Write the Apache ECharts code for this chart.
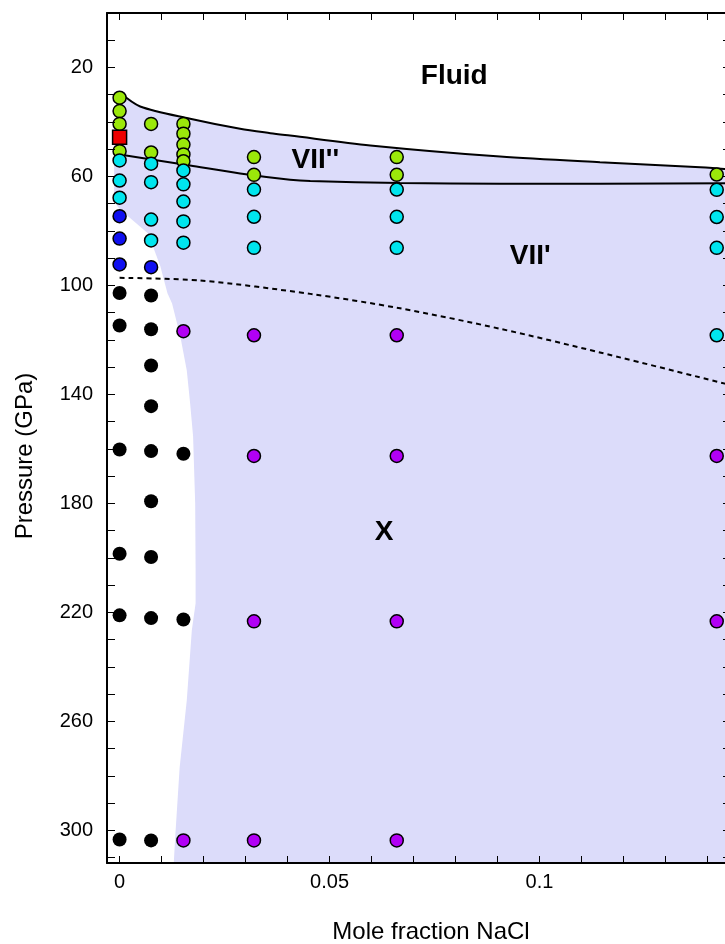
<!DOCTYPE html>
<html>
<head>
<meta charset="utf-8">
<script src="https://cdn.jsdelivr.net/npm/echarts@6/dist/echarts.min.js"></script>
<style>
html,body{margin:0;padding:0;background:#fff;overflow:hidden;}
#chart{width:740px;height:944px;}
</style>
</head>
<body>
<div id="chart"></div>
<script>
// ---- axis ranges & ticks ----
const xMin = -0.003, xMax = 0.1456;
const yMin = 0, yMax = 312;
const xTickValues = [0,0.01,0.02,0.03,0.04,0.05,0.06,0.07,0.08,0.09,0.1,0.11,0.12,0.13,0.14];
const xLabelValues = [0,0.05,0.1];
const yTickValues = [10,20,30,40,50,60,70,80,90,100,110,120,130,140,150,160,170,180,190,200,210,220,230,240,250,260,270,280,290,300,310];
const yLabelValues = [20,60,100,140,180,220,260,300];

// ---- data points (mole fraction NaCl, pressure GPa) ----
const greenX = [0,0,0,0, 0.0075,0.0075, 0.0152,0.0152,0.0152,0.0152,0.0152, 0.032,0.032, 0.066,0.066, 0.1422];
const greenP = [31.1,36.0,40.7,50.7, 40.7,51.2, 40.7,44.3,48.3,51.9,54.4, 52.9,59.4, 52.9,59.4, 59.3];

const redX = [0];
const redP = [45.6];

const cyanX = [0,0,0, 0.0075,0.0075,0.0075,0.0075, 0.0152,0.0152,0.0152,0.0152,0.0152, 0.032,0.032,0.032, 0.066,0.066,0.066, 0.1422,0.1422,0.1422,0.1422];
const cyanP = [54.1,61.5,67.8, 55.3,62.1,75.8,83.5, 57.8,62.9,69.2,76.5,84.3, 64.8,74.8,86.2, 64.8,74.8,86.2, 64.9,74.9,86.2,118.3];

const blueX = [0,0,0, 0.0075];
const blueP = [74.6,82.8,92.3, 93.3];

const purpleX = [0.0152,0.0152, 0.032,0.032,0.032,0.032, 0.066,0.066,0.066,0.066, 0.1422,0.1422];
const purpleP = [116.8,303.7, 118.3,162.6,223.3,303.7, 118.3,162.6,223.3,303.7, 162.6,223.3];

const blackX = [0,0,0,0,0,0, 0.0075,0.0075,0.0075,0.0075,0.0075,0.0075,0.0075,0.0075,0.0075, 0.0152,0.0152];
const blackP = [102.8,114.7,160.2,198.5,221.1,303.4, 103.7,116.1,129.4,144.3,160.8,179.2,199.7,222.1,303.7, 161.8,222.6];

// ---- phase boundaries ----
const upperX = [0, 0.0049, 0.0168, 0.0287, 0.0359, 0.0406, 0.0597, 0.0906, 0.1144, 0.1383, 0.1456];
const upperP = [29.1, 34.3, 38.8, 42.5, 44.1, 45.0, 48.6, 52.7, 54.8, 56.6, 57.4];

const lowerX = [0, 0.0168, 0.0287, 0.0406, 0.0454, 0.0668, 0.0906, 0.1456];
const lowerP = [51.9, 56.0, 58.9, 61.2, 61.7, 62.4, 62.7, 62.5];

const dashX = [0, 0.0192, 0.0454, 0.0668, 0.0906, 0.1144, 0.1456];
const dashP = [97.2, 98.2, 103.1, 108.4, 115.9, 124.6, 136.6];

// left edge of the shaded region, from bottom up to the top
const edgeX = [0.0129, 0.0133, 0.0143, 0.016, 0.0172, 0.0181, 0.0181, 0.018, 0.0175, 0.0168, 0.016, 0.0145, 0.0125, 0.0114, 0.0097, 0.0068, 0.0018, -0.0003, -0.0013, -0.0013, -0.0008];
const edgeP = [312, 301.1, 276.9, 252.3, 226.6, 216.7, 204.6, 180, 155.4, 143.3, 131.2, 119, 106.6, 102.9, 93, 80.9, 74.3, 71.4, 68.8, 50.5, 33];

// ---- region labels ----
const labelNames = ['Fluid', "VII''", "VII'", 'X'];
const labelX = [0.0797, 0.0466, 0.0978, 0.063];
const labelP = [23.3, 54.1, 89.4, 190.6];

const zip = (xs, ys) => xs.map((x, i) => [x, ys[i]]);

const shadeX = upperX.concat([xMax, xMax]).concat(edgeX);
const shadeP = upperP.concat([upperP[upperP.length-1], yMax]).concat(edgeP);

const FONT = '"Liberation Sans", Arial, Helvetica, sans-serif';

const chart = echarts.init(document.getElementById('chart'), null, {renderer: 'canvas'});

function dotSeries(xs, ys, color, size, border, symbol) {
  return {
    type: 'scatter',
    data: zip(xs, ys),
    symbol: symbol || 'circle',
    symbolSize: size,
    itemStyle: {color: color, borderColor: '#000', borderWidth: border, opacity: 1},
    z: 5,
    silent: true
  };
}

const axisCommon = {
  type: 'value',
  splitLine: {show: false},
  axisLine: {show: true, onZero: false, lineStyle: {color: '#000', width: 2}},
  z: 10
};

const option = {
  animation: false,
  backgroundColor: '#fff',
  grid: {left: 107, top: 13, right: 9, bottom: 81, containLabel: false},
  xAxis: [
    Object.assign({}, axisCommon, {
      position: 'bottom', min: xMin, max: xMax,
      axisTick: {show: true, inside: true, length: 7, lineStyle: {color: '#000', width: 1}, customValues: xTickValues},
      axisLabel: {show: true, customValues: xLabelValues, fontSize: 20, color: '#000', fontFamily: FONT, margin: 9}
    }),
    Object.assign({}, axisCommon, {
      position: 'top', min: xMin, max: xMax,
      axisTick: {show: true, inside: true, length: 7, lineStyle: {color: '#000', width: 1}, customValues: xTickValues},
      axisLabel: {show: false}
    })
  ],
  yAxis: [
    Object.assign({}, axisCommon, {
      position: 'left', inverse: true, min: yMin, max: yMax,
      axisTick: {show: true, inside: true, length: 8, lineStyle: {color: '#000', width: 1}, customValues: yTickValues},
      axisLabel: {show: true, customValues: yLabelValues, fontSize: 20, color: '#000', fontFamily: FONT, margin: 14}
    }),
    Object.assign({}, axisCommon, {
      position: 'right', inverse: true, min: yMin, max: yMax,
      axisTick: {show: true, inside: true, length: 8, lineStyle: {color: '#000', width: 1}, customValues: yTickValues},
      axisLabel: {show: false}
    })
  ],
  graphic: [
    {type: 'text', x: 431, y: 932, style: {text: 'Mole fraction NaCl', font: '24px ' + FONT, fill: '#000', textAlign: 'center', textVerticalAlign: 'middle'}},
    {type: 'text', x: 25, y: 456, rotation: Math.PI / 2, style: {text: 'Pressure (GPa)', font: '24px ' + FONT, fill: '#000', textAlign: 'center', textVerticalAlign: 'middle'}}
  ],
  series: [
    {
      type: 'custom',
      data: [[shadeX[0], shadeP[0]]],
      z: 1,
      silent: true,
      renderItem: function (params, api) {
        const pts = shadeX.map((x, i) => api.coord([x, shadeP[i]]));
        return {type: 'polygon', shape: {points: pts}, style: {fill: '#dcdcfa', stroke: null}};
      }
    },
    {
      type: 'line', data: zip(upperX, upperP), smooth: 0.3, symbol: 'none',
      lineStyle: {color: '#000', width: 2}, z: 3, silent: true
    },
    {
      type: 'line', data: zip(lowerX, lowerP), smooth: 0.3, symbol: 'none',
      lineStyle: {color: '#000', width: 2}, z: 3, silent: true
    },
    {
      type: 'line', data: zip(dashX, dashP), smooth: 0.3, symbol: 'none',
      lineStyle: {color: '#000', width: 2, type: [5, 4]}, z: 3, silent: true
    },
    dotSeries(blackX, blackP, '#000', 14, 0),
    dotSeries(greenX, greenP, '#9be80a', 13, 1.5),
    dotSeries(cyanX, cyanP, '#00e5ee', 13, 1.5),
    dotSeries(blueX, blueP, '#1010f0', 13, 1.5),
    dotSeries(purpleX, purpleP, '#b100f5', 13, 1.5),
    dotSeries(redX, redP, '#ee0000', 14, 1.5, 'rect'),
    {
      type: 'scatter',
      data: labelNames.map((n, i) => ({name: n, value: [labelX[i], labelP[i]]})),
      symbolSize: 0,
      silent: true,
      z: 6,
      itemStyle: {opacity: 1},
      label: {show: true, position: 'inside', formatter: '{b}', fontSize: 28, fontWeight: 'bold', color: '#000', opacity: 1, textBorderWidth: 0, fontFamily: FONT}
    }
  ]
};

chart.setOption(option);
</script>
</body>
</html>
